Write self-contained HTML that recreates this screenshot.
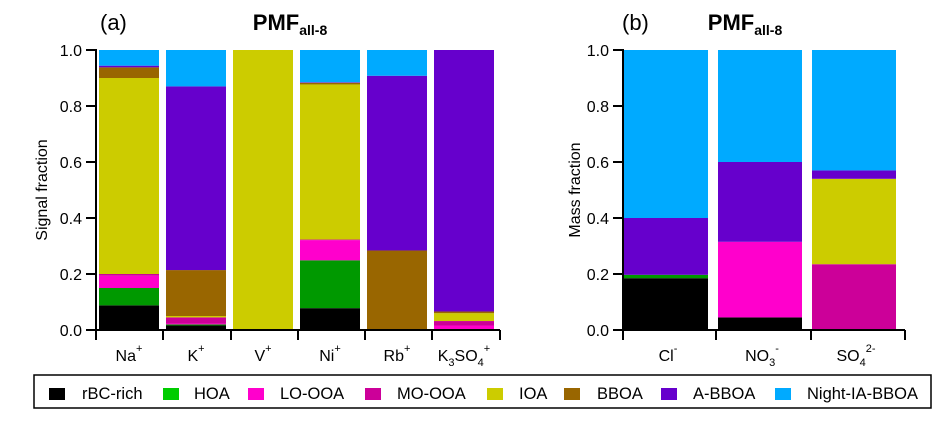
<!DOCTYPE html>
<html><head><meta charset="utf-8"><style>
body{margin:0;background:#fff;width:941px;height:418px;overflow:hidden;font-family:"Liberation Sans",Arial,sans-serif}
</style></head><body>
<svg id="c" width="941" height="418" xmlns="http://www.w3.org/2000/svg" font-family="Liberation Sans, Arial, sans-serif"></svg>
<script>
const factors=["rBC-rich","HOA","LO-OOA","MO-OOA","IOA","BBOA","A-BBOA","Night-IA-BBOA"];
const colors=["#000000","#009900","#ff00cc","#cc0099","#cccc00","#996600","#6600cc","#00aaff"];
const legendColors=["#000000","#00cc00","#ff00cc","#cc0099","#cccc00","#996600","#6600cc","#00aaff"];
const catsA=["Na","K","V","Ni","Rb","K3SO4"];
const valsA=[
 [0.088,0.062,0.044,0.006,0.70,0.038,0.006,0.056],
 [0.016,0.004,0.003,0.022,0.005,0.164,0.656,0.13],
 [0,0,0,0,1.0,0,0,0],
 [0.078,0.171,0.072,0.002,0.554,0.006,0.002,0.115],
 [0,0,0,0,0,0.284,0.624,0.092],
 [0,0.003,0.013,0.016,0.028,0.006,0.934,0]
];
const catsB=["Cl","NO3","SO4"];
const valsB=[
 [0.185,0.012,0,0,0,0,0.203,0.60],
 [0.045,0,0.27,0,0,0,0.285,0.40],
 [0,0,0,0.235,0.305,0,0.03,0.43]
];
const yTicks=[0,0.2,0.4,0.6,0.8,1.0];
const NS="http://www.w3.org/2000/svg";
const svg=document.getElementById('c');
function el(t,a,p){const e=document.createElementNS(NS,t);for(const k in a)e.setAttribute(k,a[k]);(p||svg).appendChild(e);return e;}
const y0=330,yTop=50;
function ys(v){return y0-(y0-yTop)*v;}

function panel(cats,vals,axX,bx0,bw,step,ylab,lblX,tickXs,name){
  const g=el('g',{});
  
  
  cats.forEach((c,i)=>{
    let cum=0;const x=bx0+i*step;
    vals[i].forEach((v,j)=>{
      if(v<=0){return;}
      const r=el('rect',{x:x,y:ys(cum+v),width:bw,height:(y0-yTop)*v,fill:colors[j]},g);
      
      
      cum+=v;
    });
  });
  el('line',{x1:axX,y1:yTop-1,x2:axX,y2:y0+8,stroke:'#000','stroke-width':2},g);
  el('line',{x1:axX,y1:y0,x2:tickXs[tickXs.length-1],y2:y0,stroke:'#000','stroke-width':2},g);
  yTicks.forEach(t=>{
    el('line',{x1:axX-10,y1:ys(t),x2:axX,y2:ys(t),stroke:'#000','stroke-width':2},g);
    const tx=el('text',{x:axX-14,y:ys(t)+6,'text-anchor':'end','font-size':16,fill:'#000'},g);
    tx.textContent=t.toFixed(1);
    
    
  });
  tickXs.forEach(x=>el('line',{x1:x,y1:y0,x2:x,y2:y0+10,stroke:'#000','stroke-width':2},g));
  const yl=el('text',{x:0,y:0,transform:`translate(${lblX},190) rotate(-90)`,'text-anchor':'middle','font-size':16},g);
  yl.textContent=ylab;
}
panel(catsA,valsA,96,99,60,67,'Signal fraction',47,[96,163,231,298,365,432,500],'panel-a');
panel(catsB,valsB,623,624,84,94,'Mass fraction',580,[623,716,811,905],'panel-b');
function title(x,lab,lx){
  const pl=el('text',{x:lx,y:30,'font-size':22});pl.textContent=lab;
  
  const tt=el('text',{x:x,y:30,'font-size':22,'font-weight':'bold','text-anchor':'middle'});
  tt.innerHTML='PMF<tspan font-size="14" dy="5">all-8</tspan>';
  
}
title(290,'(a)',100);title(745,'(b)',622);
const xlabA=['Na<tspan font-size="11" dy="-9">+</tspan>','K<tspan font-size="11" dy="-9">+</tspan>','V<tspan font-size="11" dy="-9">+</tspan>','Ni<tspan font-size="11" dy="-9">+</tspan>','Rb<tspan font-size="11" dy="-9">+</tspan>','K<tspan font-size="11" dy="5">3</tspan><tspan dy="-5">SO</tspan><tspan font-size="11" dy="5">4</tspan><tspan font-size="11" dy="-14">+</tspan>'];
const xlabB=['Cl<tspan font-size="11" dy="-9">-</tspan>','NO<tspan font-size="11" dy="5">3</tspan><tspan font-size="11" dy="-14">-</tspan>','SO<tspan font-size="11" dy="5">4</tspan><tspan font-size="11" dy="-14">2-</tspan>'];
xlabA.forEach((h,i)=>{const t=el('text',{x:129+i*67,y:361,'font-size':16,'text-anchor':'middle'});t.innerHTML=h;
 });
xlabB.forEach((h,i)=>{const t=el('text',{x:668+i*94,y:361,'font-size':16,'text-anchor':'middle'});t.innerHTML=h;
 });
const lg=el('g',{});

el('rect',{x:34,y:375,width:897,height:33,fill:'#fff',stroke:'#000','stroke-width':1.5},lg);
const lx=[49,163,248,365,487,564,661,775];
const tx=[82,194,280,397,519,597,693,807];
factors.forEach((f,i)=>{
  const e=el('g',{},lg);
  
  el('rect',{x:lx[i],y:388,width:16,height:12,fill:legendColors[i]},e);
  const t=el('text',{x:tx[i],y:399,'font-size':16.5},e);t.textContent=f;
});
</script>
</body></html>
